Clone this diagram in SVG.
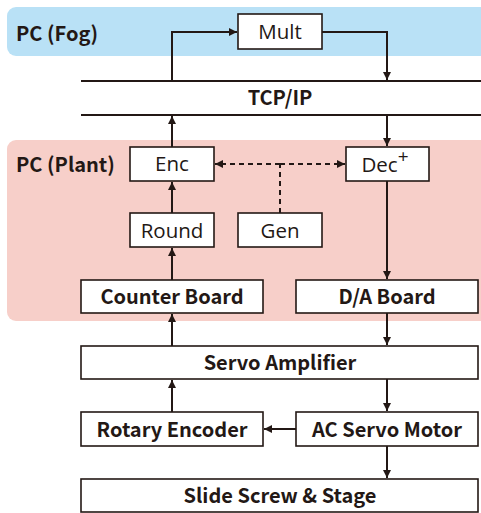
<svg xmlns="http://www.w3.org/2000/svg" width="481" height="513" viewBox="0 0 481 513">
<defs>
<marker id="ah" viewBox="0 0 10 10" refX="10" refY="5" markerWidth="4" markerHeight="4" orient="auto" markerUnits="strokeWidth">
<path d="M0,0 L10,5 L0,10 z" fill="#231815"/>
</marker>
<style>
.box{fill:#fff;stroke:#231815;stroke-width:1.6}
.bt{font-family:"Noto Sans CJK JP","Noto Sans",sans-serif;font-weight:bold;font-size:20px;fill:#231815;text-anchor:middle}
.lt{font-family:"Open Sans","Noto Sans",sans-serif;font-weight:normal;font-size:20.5px;fill:#231815;text-anchor:middle}
.ln{fill:none;stroke:#231815;stroke-width:2}
.dl{fill:none;stroke:#231815;stroke-width:2;stroke-dasharray:5,4}
</style>
</defs>
<g id="fog-band">
<rect x="7" y="7" width="490" height="49" rx="9" fill="#b9e1f6"/>
<text x="16" y="41" class="bt" style="text-anchor:start">PC (Fog)</text>
</g>
<g id="plant-band">
<rect x="7" y="140" width="490" height="181" rx="9" fill="#f7cfc9"/>
<text x="16" y="172" class="bt" style="text-anchor:start">PC (Plant)</text>
</g>
<g id="tcpip">
<line x1="81" y1="81" x2="481" y2="81" stroke="#231815" stroke-width="2"/>
<line x1="81" y1="115" x2="481" y2="115" stroke="#231815" stroke-width="2"/>
<text x="280" y="105" class="bt">TCP/IP</text>
</g>
<g id="mult"><rect class="box" x="238" y="14" width="84" height="35"/><text class="lt" x="280" y="39">Mult</text></g>
<g id="enc"><rect class="box" x="130" y="147" width="84" height="34"/><text class="lt" x="172" y="171">Enc</text></g>
<g id="dec"><rect class="box" x="346" y="147" width="83" height="34"/><text class="lt" x="385" y="172">Dec<tspan dy="-9" font-size="19">+</tspan></text></g>
<g id="round"><rect class="box" x="130" y="213" width="84" height="34"/><text class="lt" x="172" y="238">Round</text></g>
<g id="gen"><rect class="box" x="238" y="213" width="84" height="34"/><text class="lt" x="280" y="238">Gen</text></g>
<g id="counter-board"><rect class="box" x="81" y="280" width="182" height="33"/><text class="bt" x="172" y="304">Counter Board</text></g>
<g id="da-board"><rect class="box" x="296" y="280" width="182" height="33"/><text class="bt" x="387" y="304">D/A Board</text></g>
<g id="servo-amp"><rect class="box" x="81" y="346" width="397" height="33"/><text class="bt" x="280" y="370">Servo Amplifier</text></g>
<g id="rotary-encoder"><rect class="box" x="81" y="412" width="182" height="34"/><text class="bt" x="172" y="437">Rotary Encoder</text></g>
<g id="ac-motor"><rect class="box" x="296" y="412" width="182" height="34"/><text class="bt" x="387" y="437">AC Servo Motor</text></g>
<g id="slide-screw"><rect class="box" x="81" y="479" width="397" height="33"/><text class="bt" x="280" y="503">Slide Screw &amp; Stage</text></g>
<g id="connectors">
<path class="ln" d="M172,81 V32 H237" marker-end="url(#ah)"/>
<path class="ln" d="M322,32 H387 V80" marker-end="url(#ah)"/>
<path class="ln" d="M172,147 V116" marker-end="url(#ah)"/>
<path class="ln" d="M172,213 V182" marker-end="url(#ah)"/>
<path class="ln" d="M172,280 V248" marker-end="url(#ah)"/>
<path class="ln" d="M172,346 V314" marker-end="url(#ah)"/>
<path class="ln" d="M172,412 V380" marker-end="url(#ah)"/>
<path class="ln" d="M387,115 V146" marker-end="url(#ah)"/>
<path class="ln" d="M387,181 V279" marker-end="url(#ah)"/>
<path class="ln" d="M387,313 V345" marker-end="url(#ah)"/>
<path class="ln" d="M387,379 V411" marker-end="url(#ah)"/>
<path class="ln" d="M387,446 V478" marker-end="url(#ah)"/>
<path class="ln" d="M296,429 H264" marker-end="url(#ah)"/>
<path class="dl" d="M280,164 H215" marker-end="url(#ah)"/>
<path class="dl" d="M280,164 H345" marker-end="url(#ah)"/>
<path class="dl" d="M280,213 V164"/>
</g>
</svg>
